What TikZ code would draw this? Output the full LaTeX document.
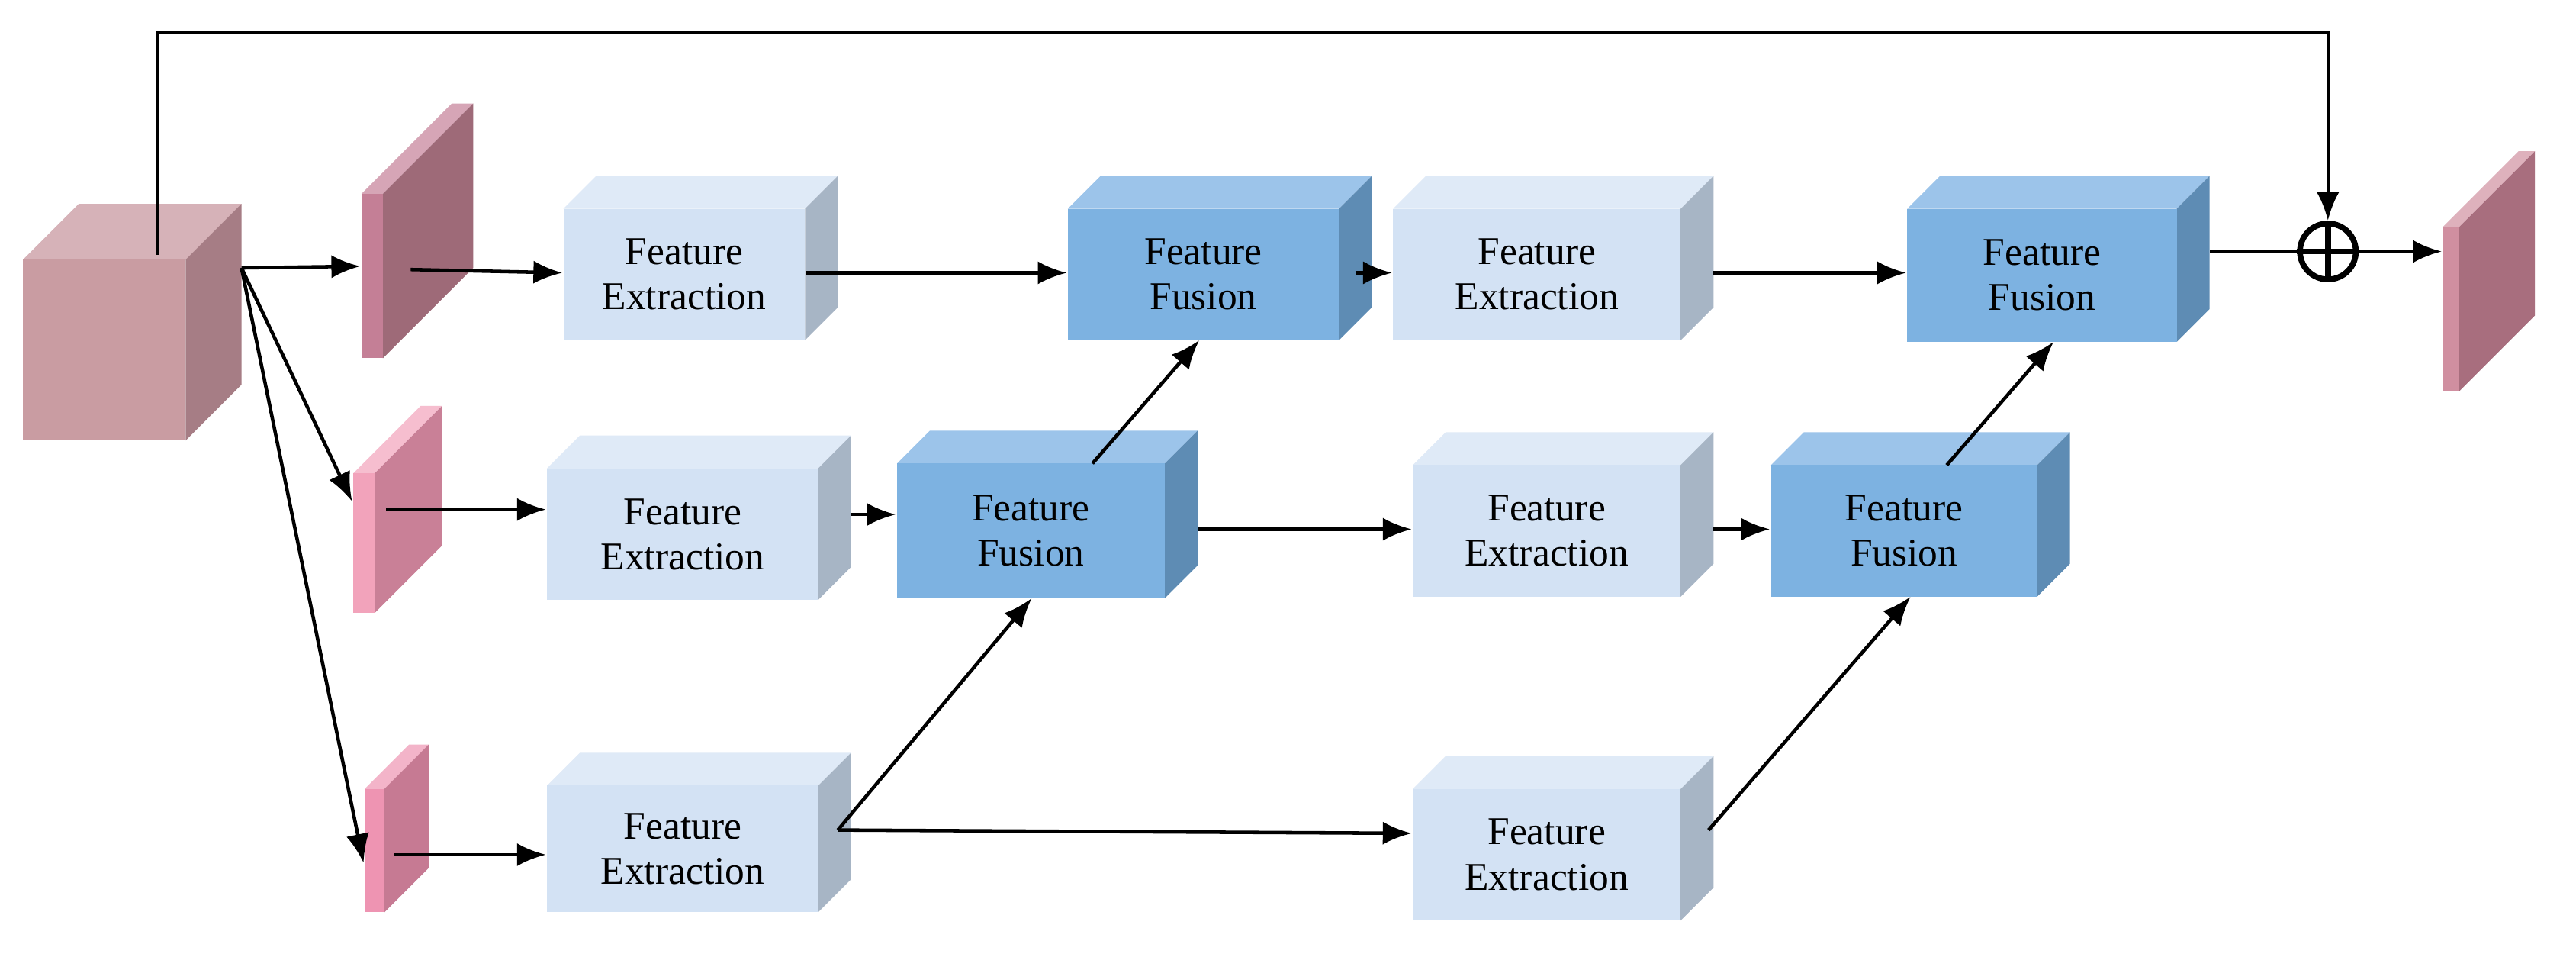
\documentclass[tikz,border=0pt]{standalone}
\usepackage{fontspec}
\setmainfont{Liberation Serif}
\usetikzlibrary{fit,calc,arrows.meta}
\definecolor{feF}{HTML}{D3E2F4}\definecolor{feT}{HTML}{DFEAF7}\definecolor{feS}{HTML}{A7B5C5}
\definecolor{ffF}{HTML}{7DB2E1}\definecolor{ffT}{HTML}{9CC4EA}\definecolor{ffS}{HTML}{5E8CB4}
\definecolor{cF}{HTML}{C99CA2}\definecolor{cT}{HTML}{D6B2B8}\definecolor{cS}{HTML}{A67D85}
\definecolor{p1F}{HTML}{C47F96}\definecolor{p1S}{HTML}{9E6A78}
\definecolor{p2F}{HTML}{F2A3BB}\definecolor{p2S}{HTML}{C98097}
\definecolor{p3F}{HTML}{EE94B2}\definecolor{p3S}{HTML}{C67A93}
\definecolor{p4F}{HTML}{D08FA0}\definecolor{p4S}{HTML}{A86E7E}
\newcommand\bx[9]{% name x1 y1 x2 y2 d front top side
  \fill[#8] (#2,#3)--++(#6,-#6)--(#4+#6,#3-#6)--(#4,#3)--cycle;
  \fill[#9] (#4,#3)--(#4+#6,#3-#6)--(#4+#6,#5-#6)--(#4,#5)--cycle;
  \fill[#7] (#2,#3) rectangle (#4,#5);
  \node[fit={(#2,#3)(#4,#5)},inner sep=0pt] (#1) {};}
\newcommand\plate[8]{% name x1 x2 y1 y2 d front side
  \fill[#7!70!white] (#2,#4)--(#2+#6,#4-#6)--(#3+#6,#4-#6)--(#3,#4)--cycle;
  \fill[#8] (#3,#4)--(#3+#6,#4-#6)--(#3+#6,#5-#6)--(#3,#5)--cycle;
  \fill[#7] (#2,#4) rectangle (#3,#5);
  \node[fit={(#2,#4)(#3,#5)},inner sep=0pt] (#1) {};}
\tikzset{lbl/.style={align=center,font=\fontsize{6.8}{7.8}\selectfont},
 ar/.style={-{Latex[length=5pt,width=4pt]},line width=0.6pt}}
\begin{document}
\begin{tikzpicture}[x=0.01cm,y=-0.01cm]
\useasboundingbox[fill=white] (0,0) rectangle (1568,582);
% cube
\bx{cube}{14}{158}{113}{268}{34}{cF}{cT}{cS}
% plates
\plate{p1}{220}{233}{118}{218}{55}{p1F}{p1S}
\plate{p2}{215}{228}{288}{373}{41}{p2F}{p2S}
\plate{p3}{222}{234}{480}{555}{27}{p3F}{p3S}
\plate{p4}{1487}{1497}{138}{238}{46}{p4F}{p4S}
% boxes
\bx{fe1}{343}{127}{490}{207}{20}{feF}{feT}{feS}
\bx{ff1}{650}{127}{815}{207}{20}{ffF}{ffT}{ffS}
\bx{fe2}{848}{127}{1023}{207}{20}{feF}{feT}{feS}
\bx{ff2}{1161}{127}{1325}{208}{20}{ffF}{ffT}{ffS}
\bx{fe3}{333}{285}{498}{365}{20}{feF}{feT}{feS}
\bx{ff3}{546}{282}{709}{364}{20}{ffF}{ffT}{ffS}
\bx{fe4}{860}{283}{1023}{363}{20}{feF}{feT}{feS}
\bx{ff4}{1078}{283}{1240}{363}{20}{ffF}{ffT}{ffS}
\bx{fe5}{333}{478}{498}{555}{20}{feF}{feT}{feS}
\bx{fe6}{860}{480}{1023}{560}{20}{feF}{feT}{feS}
\foreach \n in {fe1,fe2,fe3,fe4,fe5,fe6} \node[lbl] at (\n) {Feature\\Extraction};
\foreach \n in {ff1,ff2,ff3,ff4} \node[lbl] at (\n) {Feature\\Fusion};
% plus
\node[circle,draw,line width=1pt,minimum size=0.34cm,inner sep=0] (plus) at (1417,153) {};
\draw[line width=1pt] (plus.north)--(plus.south) (plus.west)--(plus.east);
% connectors
\coordinate (cs) at (147,163);
\draw[ar] (cs) -- (p1.west|-0,162);
\draw[ar] (cs) -- (p2.west|-0,305);
\draw[ar] (cs) -- (p3.west|-0,525);
\draw[ar] (250,164) -- (fe1.west|-0,166);
\draw[ar] (235,310) -- (fe3.west|-0,310);
\draw[ar] (240,520) -- (fe5.west|-0,520);
\draw[ar] (fe1.east|-0,166) -- (ff1.west|-0,166);
\draw[ar] (825,166) -- (fe2.west|-0,166);
\draw[ar] (1043,166) -- (ff2.west|-0,166);
\draw[line width=0.6pt] (1345,153) -- (plus.west);
\draw[ar] (plus.east) -- (p4.west|-0,153);
\draw[ar] (518,313) -- (ff3.west|-0,313);
\draw[ar] (729,322) -- (fe4.west|-0,322);
\draw[ar] (1043,322) -- (ff4.west|-0,322);
\draw[ar] (665,282) -- (730,207);
\draw[ar] (1185,283) -- (1250,208);
\coordinate (b) at (510,505);
\draw[ar] (b) -- (628,364);
\draw[ar] (b) -- (fe6.west|-0,507);
\draw[ar] (1040,505) -- (1163,363);
\draw[ar] (96,155) -- (96,20) -- (1417,20) -- (plus.north);
\end{tikzpicture}
\end{document}
